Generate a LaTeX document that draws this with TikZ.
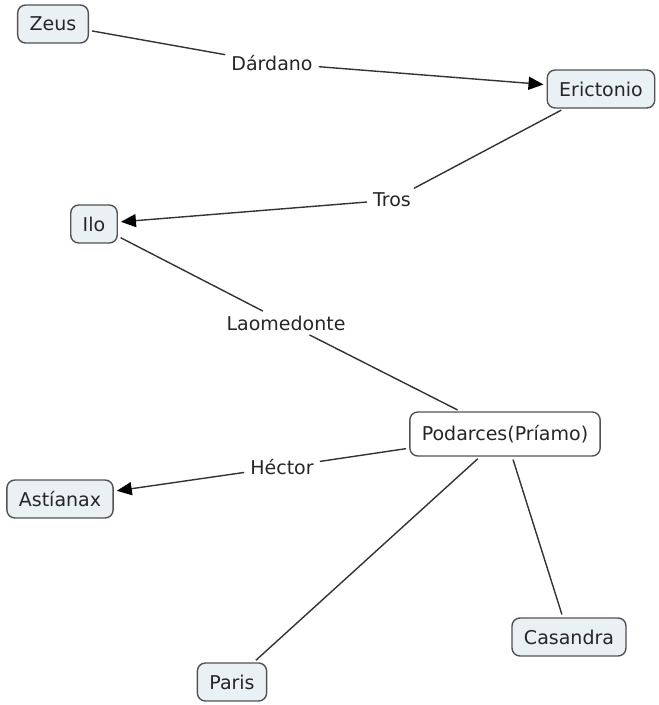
\documentclass[tikz,border=0pt]{standalone}
\usepackage{fontspec}
\setmainfont{DejaVu Sans}
\usetikzlibrary{arrows.meta}
\definecolor{conceptfill}{HTML}{E9F1F5}
\definecolor{edgegray}{HTML}{333333}
\definecolor{textgray}{HTML}{262626}
\tikzset{
  concept/.style={draw=edgegray!85, line width=1.4pt, rounded corners=8pt, fill=conceptfill,
    text=textgray, inner xsep=12pt, minimum height=38pt, font=\fontsize{19}{22}\selectfont},
  linklabel/.style={text=textgray, inner sep=3pt, font=\fontsize{19}{22}\selectfont},
  link/.style={draw=edgegray, line width=1.4pt, shorten <=3pt, shorten >=3pt},
  arrowlink/.style={link, -{Triangle[length=15pt,width=13pt,color=black]}}
}
\begin{document}
\begin{tikzpicture}[x=1pt,y=-1pt]
\useasboundingbox (0,0) rectangle (659,705);
% concepts
\node[concept] (zeus) at (53,24) {Zeus};
\node[concept] (erictonio) at (601,89) {Erictonio};
\node[concept] (ilo) at (94,224) {Ilo};
\node[concept, fill=white, minimum height=44pt] (podarces) at (505,434) {Podarces(Príamo)};
\node[concept] (astianax) at (60,499) {Astíanax};
\node[concept] (casandra) at (569,637) {Casandra};
\node[concept] (paris) at (232,682) {Paris};
% linking phrases
\node[linklabel] (dardano) at (272,63) {Dárdano};
\node[linklabel] (tros) at (392,200) {Tros};
\node[linklabel] (laomedonte) at (286,323) {Laomedonte};
\node[linklabel] (hector) at (282,467) {Héctor};
% connections
\draw[link] (zeus) -- (dardano);
\draw[arrowlink] (dardano) -- (erictonio);
\draw[link] (erictonio) -- (tros);
\draw[arrowlink] (tros) -- (ilo);
\draw[link] (ilo) -- (laomedonte);
\draw[link] (laomedonte) -- (podarces);
\draw[link] (podarces) -- (hector);
\draw[arrowlink] (hector) -- (astianax);
\draw[link] (podarces) -- (paris);
\draw[link] (podarces) -- (casandra);
\end{tikzpicture}
\end{document}
